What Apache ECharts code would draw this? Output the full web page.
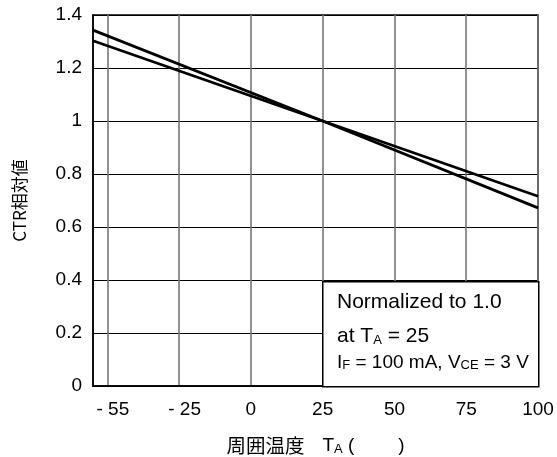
<!DOCTYPE html>
<html>
<head>
<meta charset="utf-8">
<script src="https://cdn.jsdelivr.net/npm/echarts@6/dist/echarts.min.js"></script>
<style>
  html, body { margin: 0; padding: 0; background: #fff; }
  #chart { width: 557px; height: 457px; }
</style>
</head>
<body>
<div id="chart"></div>
<script>
// Temperature positions of the vertical grid lines and their labels
const tempTicks = [-50, -25, 0, 25, 50, 75, 100];
const tempTickLabels = ['- 55', '- 25', '0', '25', '50', '75', '100'];

// Relative CTR vs ambient temperature (two characteristic lines)
const tempA = [-55, 25, 100];
const ctrA = [1.343, 1.0, 0.672];
const tempB = [-55, 25, 100];
const ctrB = [1.303, 1.0, 0.716];

const LATIN = '"Liberation Sans", Arial, sans-serif';
const CJK = '"Noto Sans CJK JP", "Liberation Sans", sans-serif';

const lineStyle = { color: '#000', width: 2.8 };

const chart = echarts.init(document.getElementById('chart'), null, { renderer: 'canvas' });

chart.setOption({
  animation: false,
  backgroundColor: '#fff',
  grid: {
    left: 93, top: 15, right: 19, bottom: 71,
    outerBoundsMode: 'none',
    containLabel: false,
    show: true, borderColor: '#000', borderWidth: 1.5, backgroundColor: 'transparent'
  },
  xAxis: {
    type: 'value',
    min: -55,
    max: 100,
    name: '{c|周囲温度}{g1| }{l|T}{s|A}{l| (}{g2| }{l|)}',
    nameLocation: 'middle',
    nameGap: 50,
    nameTextStyle: {
      rich: {
        c: { fontFamily: CJK, fontSize: 19.5, color: '#000' },
        l: { fontFamily: LATIN, fontSize: 19, color: '#000' },
        s: { fontFamily: LATIN, fontSize: 13, color: '#000', verticalAlign: 'bottom' },
        g1: { fontFamily: LATIN, fontSize: 19, width: 18 },
        g2: { fontFamily: LATIN, fontSize: 19, width: 44 }
      }
    },
    axisLine: { show: true, onZero: false, lineStyle: { color: '#000', width: 1.5 } },
    axisTick: { show: false, customValues: tempTicks },
    axisLabel: {
      customValues: tempTicks,
      margin: 14,
      color: '#000',
      formatter: function (v) {
        const i = tempTicks.indexOf(v);
        if (i < 0) return '';
        const t = tempTickLabels[i];
        return t.charAt(0) === '-' ? '{m|' + t + '}' : '{n|' + t + '}';
      },
      rich: {
        n: { fontFamily: LATIN, fontSize: 19, color: '#000' },
        m: { fontFamily: LATIN, fontSize: 19, color: '#000', padding: [0, 0, 0, 11] }
      }
    },
    splitLine: { show: true, lineStyle: { color: '#777', width: 1.6 } }
  },
  yAxis: {
    type: 'value',
    min: 0,
    max: 1.4,
    interval: 0.2,
    name: 'CTR相対値',
    nameLocation: 'middle',
    nameGap: 65,
    nameRotate: 90,
    nameTextStyle: { fontFamily: CJK, fontSize: 17, color: '#000' },
    axisLine: { show: true, onZero: false, lineStyle: { color: '#000', width: 1.5 } },
    axisTick: { show: false },
    axisLabel: {
      margin: 11,
      fontFamily: LATIN,
      fontSize: 19,
      color: '#000',
      formatter: function (v) { return String(Math.round(v * 10) / 10); }
    },
    splitLine: { show: true, lineStyle: { color: '#000', width: 1 } }
  },
  series: [
    {
      type: 'line',
      data: tempA.map((t, i) => [t, ctrA[i]]),
      showSymbol: false,
      lineStyle: lineStyle,
      z: 3
    },
    {
      type: 'line',
      data: tempB.map((t, i) => [t, ctrB[i]]),
      showSymbol: false,
      lineStyle: lineStyle,
      z: 3
    }
  ],
  graphic: [
    {
      type: 'rect',
      left: 322,
      top: 281,
      z: 10,
      shape: { width: 216, height: 105 },
      style: { fill: '#fff', stroke: '#000', lineWidth: 1.5 }
    },
    {
      type: 'text',
      left: 337,
      top: 292,
      z: 11,
      style: {
        text: 'Normalized to 1.0',
        fontFamily: LATIN, fontSize: 21, fill: '#000'
      }
    },
    {
      type: 'text',
      left: 337,
      top: 326,
      z: 11,
      style: {
        text: '{n|at T}{s|A}{n| = 25}',
        rich: {
          n: { fontFamily: LATIN, fontSize: 21, fill: '#000' },
          s: { fontFamily: LATIN, fontSize: 13, fill: '#000', verticalAlign: 'bottom' }
        }
      }
    },
    {
      type: 'text',
      left: 337,
      top: 353,
      z: 11,
      style: {
        text: '{n|I}{s|F}{n| = 100 mA, V}{s|CE}{n| = 3 V}',
        rich: {
          n: { fontFamily: LATIN, fontSize: 19, fill: '#000' },
          s: { fontFamily: LATIN, fontSize: 13, fill: '#000', verticalAlign: 'bottom' }
        }
      }
    }
  ]
});
</script>
</body>
</html>
